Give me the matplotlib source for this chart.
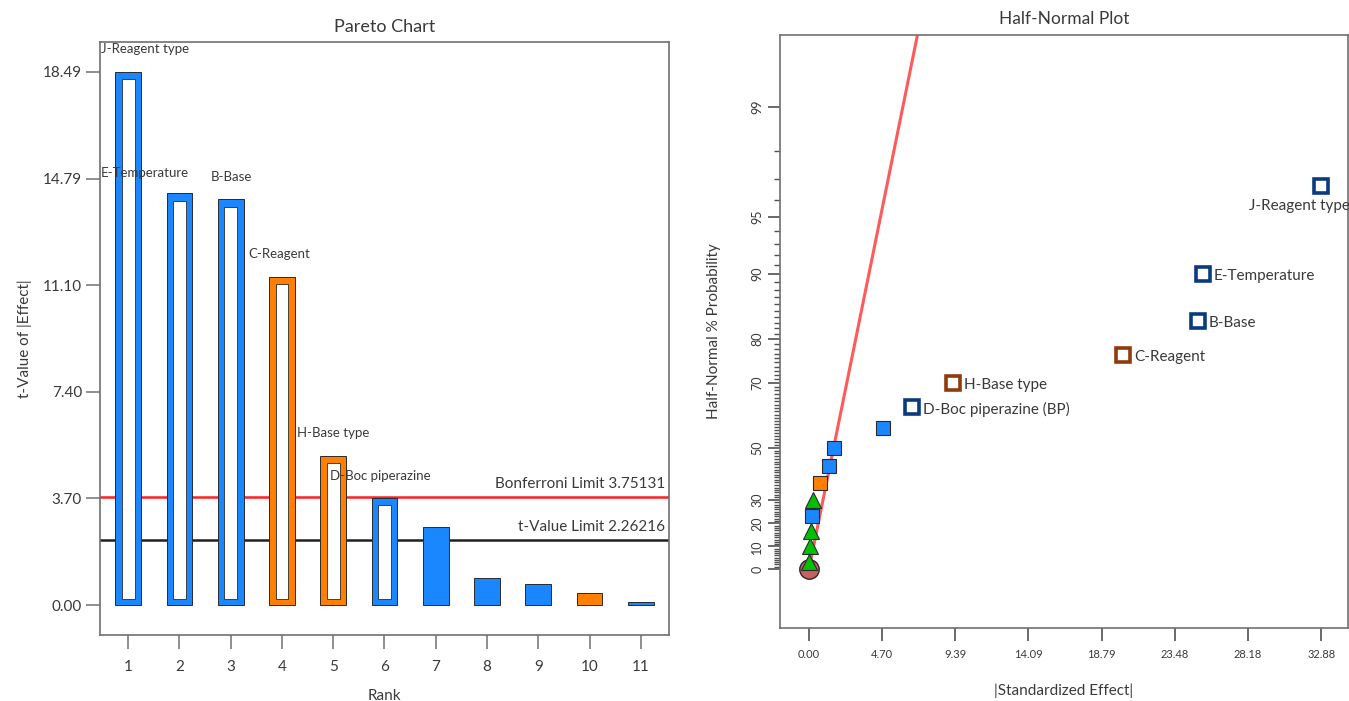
import numpy as np
import matplotlib
matplotlib.use('Agg')
import matplotlib.pyplot as plt
from matplotlib.ticker import FixedLocator, NullFormatter
from statistics import NormalDist

plt.rcParams['font.family'] = ['Lato', 'DejaVu Sans']

# Pareto chart data (t-value of |effect| by rank)
ranks = [1, 2, 3, 4, 5, 6, 7, 8, 9, 10, 11]
t_values = [18.49, 14.28, 14.07, 11.37, 5.18, 3.71, 2.70, 0.93, 0.73, 0.41, 0.12]
effect_sign = ['+', '+', '+', '-', '-', '+', '+', '+', '+', '-', '+']
in_model = [True, True, True, True, True, True, False, False, False, False, False]
bar_labels = ['J-Reagent type', 'E-Temperature', 'B-Base', 'C-Reagent',
              'H-Base type', 'D-Boc piperazine', '', '', '', '', '']
label_x = [0.47, 0.47, 2.62, 3.34, 4.29, 4.94]
label_y = [19.29, 15.0, 14.86, 12.17, 5.98, 4.49]
bonferroni = 3.75131
t_limit = 2.26216
pareto_ticks = [0.00, 3.70, 7.40, 11.10, 14.79, 18.49]

# Half-normal plot data
hn_effect = [0.0, 0.06, 0.13, 0.19, 0.26, 0.71, 1.28, 1.60, 4.75, 6.61,
             9.24, 20.15, 24.97, 25.29, 32.86]
hn_prob = [3.3, 10.0, 16.7, 23.3, 30.0, 36.7, 43.3, 50.0, 56.7, 63.3,
           70.0, 76.7, 83.3, 90.0, 96.7]
hn_kind = ['err', 'err', 'err', 'pos', 'err', 'neg', 'pos', 'pos', 'pos', 'pos_m',
           'neg_m', 'neg_m', 'pos_m', 'pos_m', 'pos_m']
hn_labels = ['', '', '', '', '', '', '', '', '', 'D-Boc piperazine (BP)',
             'H-Base type', 'C-Reagent', 'B-Base', 'E-Temperature', 'J-Reagent type']
fit_effect = [0.0, 7.7]
fit_prob = [0.0, 99.9]
hn_xticks = [0.00, 4.70, 9.39, 14.09, 18.79, 23.48, 28.18, 32.88]
hn_yticks = [0, 10, 20, 30, 50, 70, 80, 90, 95, 99]

BLUE = '#1a86ff'
ORANGE = '#ff8000'
NAVY = '#0b3a80'
BROWN = '#8f3c0c'
GREEN = '#00c000'
EDGE = '#2a2a2a'
TXT = '#3a3a3a'
SPINE = '#707070'

fig = plt.figure(figsize=(13.49, 7.01), dpi=100)

# ---------------- Pareto chart ----------------
ax1 = fig.add_axes([100 / 1349, 66 / 701, 569 / 1349, 593 / 701])
for r, t, s, m in zip(ranks, t_values, effect_sign, in_model):
    col = BLUE if s == '+' else ORANGE
    ax1.bar(r, t, width=0.5, color=col, edgecolor=EDGE, linewidth=0.7, zorder=3)
    if m:
        ax1.bar(r, t - 0.45, bottom=0.2, width=0.25, color='white',
                edgecolor=EDGE, linewidth=0.6, zorder=4)

ax1.axhline(bonferroni, color='#ff2020', lw=1.8, zorder=2)
ax1.axhline(t_limit, color='#202020', lw=1.8, zorder=2)
ax1.text(11.48, bonferroni + 0.2, f'Bonferroni Limit {bonferroni}', ha='right', va='bottom',
         fontsize=11, color=TXT)
ax1.text(11.48, t_limit + 0.2, f't-Value Limit {t_limit}', ha='right', va='bottom',
         fontsize=11, color=TXT)

for lx, ly, lab in zip(label_x, label_y, bar_labels):
    ax1.text(lx, ly, lab, ha='left', va='center', fontsize=9.5, color=TXT, zorder=5)

ax1.set_xlim(0.45, 11.55)
ax1.set_ylim(-1.04, 19.53)
ax1.set_xticks(ranks)
ax1.set_yticks(pareto_ticks)
ax1.set_yticklabels([f'{v:.2f}' for v in pareto_ticks])
ax1.tick_params(axis='both', length=10, width=1.1, color=SPINE, labelsize=11,
                labelcolor=TXT)
ax1.tick_params(axis='x', pad=8)
ax1.tick_params(axis='y', pad=3)
for sp in ax1.spines.values():
    sp.set_color(SPINE)
    sp.set_linewidth(1.2)
ax1.set_title('Pareto Chart', fontsize=13, color=TXT, pad=7)
ax1.set_ylabel('t-Value of |Effect|', fontsize=11, color=TXT, labelpad=8)
ax1.set_xlabel('Rank', fontsize=11, color=TXT, labelpad=11)

# ---------------- Half-normal plot ----------------
nd = NormalDist()


def hn_forward(p):
    p = np.clip(np.asarray(p, dtype=float), -99.999, 99.999)
    f = np.vectorize(lambda v: nd.inv_cdf((1 + v / 100.0) / 2))
    return f(p)


def hn_inverse(z):
    z = np.asarray(z, dtype=float)
    f = np.vectorize(lambda v: (2 * nd.cdf(v) - 1) * 100.0)
    return f(z)


ax2 = fig.add_axes([780 / 1349, 73 / 701, 568 / 1349, 593 / 701])
ax2.set_yscale('function', functions=(hn_forward, hn_inverse))

ax2.plot(fit_effect, fit_prob, color='#ff5a5a', lw=2.2, zorder=2)

ax2.plot([0.0], [0.0], 'o', ms=14, mfc='#c86060', mec=EDGE, mew=1.0, zorder=3)

styles = {
    'err': dict(marker='^', ms=11, mfc=GREEN, mec=EDGE, mew=0.8),
    'pos': dict(marker='s', ms=9.5, mfc=BLUE, mec=EDGE, mew=0.8),
    'neg': dict(marker='s', ms=9.5, mfc=ORANGE, mec=EDGE, mew=0.8),
    'pos_m': dict(marker='s', ms=9.5, mfc='white', mec=NAVY, mew=2.6),
    'neg_m': dict(marker='s', ms=9.5, mfc='white', mec=BROWN, mew=2.6),
}
for x, p, k in zip(hn_effect, hn_prob, hn_kind):
    ax2.plot([x], [p], linestyle='none', zorder=4, **styles[k])

for x, p, lab in zip(hn_effect, hn_prob, hn_labels):
    if not lab:
        continue
    if lab.startswith('J-'):
        t = ax2.annotate(lab, (x, p), xytext=(-52, -14), textcoords='offset points',
                         ha='left', va='center', fontsize=11, color=TXT)
    else:
        t = ax2.annotate(lab, (x, p), xytext=(8, -1.5), textcoords='offset points',
                         ha='left', va='center', fontsize=11, color=TXT)
    t.set_clip_on(True)

ax2.set_xlim(-1.86, 34.6)
ax2.set_ylim(hn_inverse(-0.329), hn_inverse(2.975))
ax2.set_xticks(hn_xticks)
ax2.set_xticklabels([f'{v:.2f}' for v in hn_xticks])
ax2.yaxis.set_major_locator(FixedLocator(hn_yticks))
ax2.set_yticklabels([str(v) for v in hn_yticks])
minor = [v for v in range(1, 99) if v not in hn_yticks]
ax2.yaxis.set_minor_locator(FixedLocator(minor))
ax2.yaxis.set_minor_formatter(NullFormatter())
ax2.tick_params(axis='both', which='major', length=9, width=1.2, color='#505050',
                labelcolor=TXT)
ax2.tick_params(axis='x', which='major', labelsize=8, pad=6)
ax2.tick_params(axis='y', which='minor', length=4, width=1.0, color='#505050')
ax2.tick_params(axis='y', which='major', labelsize=9, labelrotation=90, pad=3)
for lab in ax2.get_yticklabels():
    lab.set_va('center')
for sp in ax2.spines.values():
    sp.set_color(SPINE)
    sp.set_linewidth(1.2)
ax2.set_title('Half-Normal Plot', fontsize=12.5, color=TXT, pad=8)
ax2.set_ylabel('Half-Normal % Probability', fontsize=11, color=TXT, labelpad=22)
ax2.set_xlabel('|Standardized Effect|', fontsize=11, color=TXT, labelpad=17)

fig.savefig('out.png', dpi=100, facecolor='white')
